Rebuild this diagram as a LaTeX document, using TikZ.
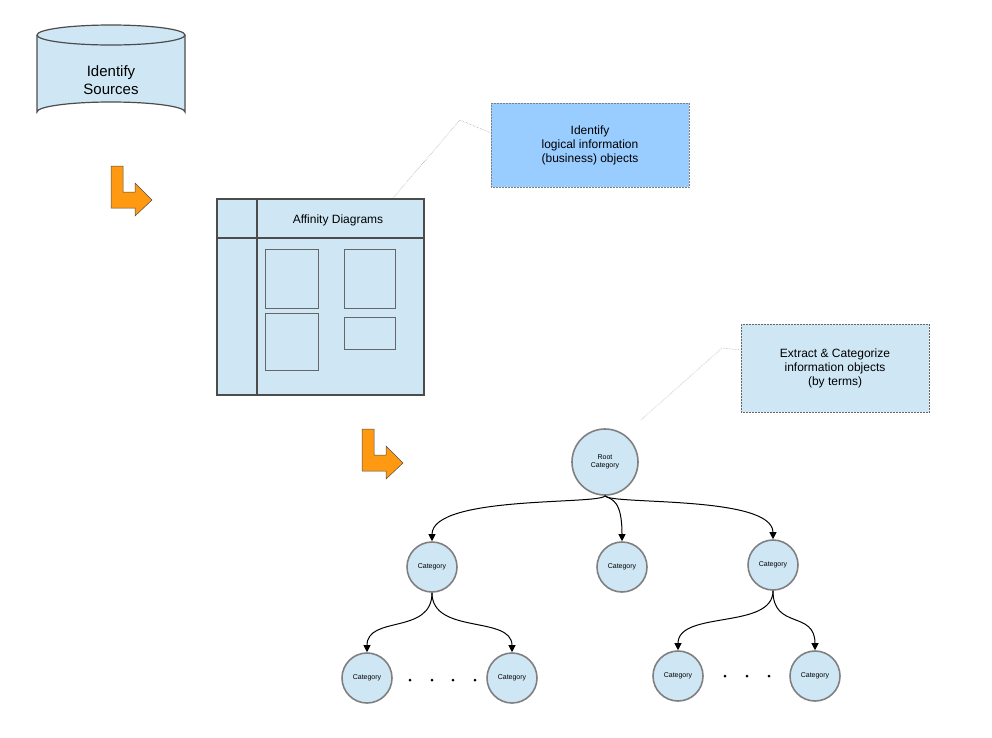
\documentclass[tikz,border=0pt]{standalone}
\usepackage{fontspec}
\setmainfont{Liberation Sans}
\usetikzlibrary{arrows.meta}
\definecolor{lb}{RGB}{207,231,245}
\definecolor{cb}{RGB}{153,204,255}
\definecolor{og}{RGB}{255,153,17}
\definecolor{bd}{RGB}{128,128,128}
\begin{document}
\begin{tikzpicture}[x=1pt,y=-1pt,
  cat/.style={circle,draw=bd,line width=1.6pt,fill=lb,minimum size=50pt,inner sep=0pt,font=\fontsize{7}{8}\selectfont,align=center},
  edge/.style={line width=1pt,-{Triangle[length=7pt,width=7pt]}},
  arr/.style={fill=og,draw=black!70,line width=0.5pt},
  box/.style={draw=black!70,line width=1.2pt,fill=lb},
  inner/.style={draw=black!60,line width=0.4pt},
  call/.style={draw=black!60,line width=0.5pt,densely dotted,align=center,font=\fontsize{12}{14}\selectfont},
  lead/.style={draw=black!40,line width=0.5pt,densely dotted}]
\useasboundingbox (0,0) rectangle (992,737);
% cylinder
\draw[box] (37,35) -- (37,112) arc[start angle=180,end angle=360,x radius=74,y radius=10] -- (185,35);
\draw[box] (111,35) ellipse[x radius=74,y radius=10];
\node[align=center,font=\fontsize{15}{18}\selectfont] (src) at (111,80) {Identify\\Sources};
% orange arrows
\foreach \dx/\dy in {0/0,251/263}{
\draw[arr,shift={(\dx,\dy)}] (111,166) -- (123,166) -- (123,192) -- (135,192) -- (135,183) -- (152,200) -- (135,216) -- (135,208) -- (111,208) -- cycle;}
% affinity
\draw[box] (217,199) rectangle (424,395);
\draw[line width=1.2pt,draw=black!70] (217,238) -- (424,238) (257,199) -- (257,395);
\node[font=\fontsize{12}{14}\selectfont] (aff) at (338,220) {Affinity Diagrams};
\draw[inner] (265,249) rectangle (318,308) (344,249) rectangle (395,308) (265,313) rectangle (318,370) (344,317) rectangle (395,349);
% callouts
\node[call,fill=cb,draw=black!50,minimum width=198pt,minimum height=84pt] (c1) at (590,145) {Identify\\logical information\\(business) objects};
\draw[lead] (393,198) -- (460,120) -- (491,133);
\node[call,fill=lb,minimum width=188pt,minimum height=88pt] (c2) at (835,368) {Extract \& Categorize\\information objects\\(by terms)};
\draw[lead] (641,420) -- (722,348) -- (741,350);
% tree
\node[cat,minimum size=66pt] (r) at (605,462) {Root\\Category};
\node[cat] (a) at (432,567) {Category};
\node[cat] (b) at (622,567) {Category};
\node[cat] (c) at (773,565) {Category};
\node[cat] (a1) at (367,678) {Category};
\node[cat] (a2) at (512,678) {Category};
\node[cat] (c1n) at (678,676) {Category};
\node[cat] (c2n) at (815,676) {Category};
\draw[edge] (r.south) .. controls (600,505) and (432,495) .. (a.north);
\draw[edge] (r.south) .. controls (612,500) and (622,500) .. (b.north);
\draw[edge] (r.south) .. controls (610,505) and (773,495) .. (c.north);
\draw[edge] (a.south) .. controls (432,635) and (367,615) .. (a1.north);
\draw[edge] (a.south) .. controls (432,635) and (512,615) .. (a2.north);
\draw[edge] (c.south) .. controls (773,630) and (678,610) .. (c1n.north);
\draw[edge] (c.south) .. controls (773,630) and (815,610) .. (c2n.north);
\foreach \x in {410,432,453,475} \fill (\x,680) circle (1.5);
\foreach \x in {725,747,769} \fill (\x,676) circle (1.5);
\end{tikzpicture}
\end{document}
